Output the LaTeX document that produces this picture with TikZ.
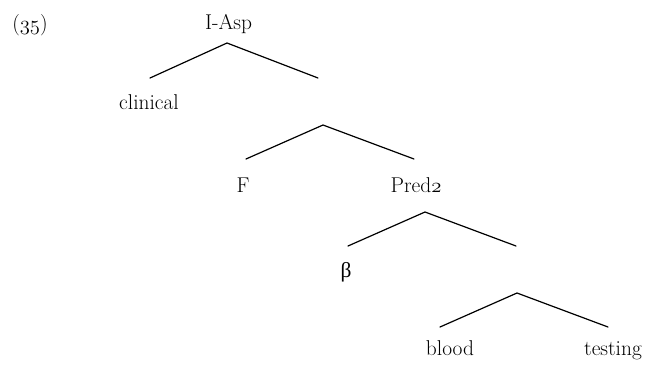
\documentclass[tikz,border=0pt]{standalone}
\usepackage{fontspec}
\newfontfamily\grk{Liberation Serif}
\newcommand{\osnum}[1]{$\mathnormal{#1}$}
\begin{document}
\begin{tikzpicture}[x=1bp,y=-1bp,
  lbl/.style={anchor=base,inner sep=0pt,font=\fontsize{21.5}{25}\selectfont},
  branch/.style={line width=1.2bp,line cap=round,line join=round}]
\useasboundingbox (0,0) rectangle (646,370);
% labels
\node[lbl] (n35) at (30,30) {(\osnum{35})};
\node[lbl] (iasp) at (228.5,29.5) {I-Asp};
\node[lbl] (clin) at (149,109) {clinical};
\node[lbl] (f) at (243,192) {F};
\node[lbl] (pred) at (416,192) {Pred\osnum{2}};
\node[lbl] (beta) at (346,277) {{\grk β}};
\node[lbl] (blood) at (450,355) {blood};
\node[lbl] (test) at (613,355) {testing};
% branch points
\coordinate (a1) at (227,43);  \coordinate (l1) at (150,78);  \coordinate (r1) at (318,78);
\coordinate (a2) at (323,125); \coordinate (l2) at (246,159); \coordinate (r2) at (414,159);
\coordinate (a3) at (425,212); \coordinate (l3) at (348,246); \coordinate (r3) at (516,246);
\coordinate (a4) at (517,293); \coordinate (l4) at (440,327); \coordinate (r4) at (608,327);
\draw[branch] (l1) -- (a1) -- (r1);
\draw[branch] (l2) -- (a2) -- (r2);
\draw[branch] (l3) -- (a3) -- (r3);
\draw[branch] (l4) -- (a4) -- (r4);
\end{tikzpicture}
\end{document}
